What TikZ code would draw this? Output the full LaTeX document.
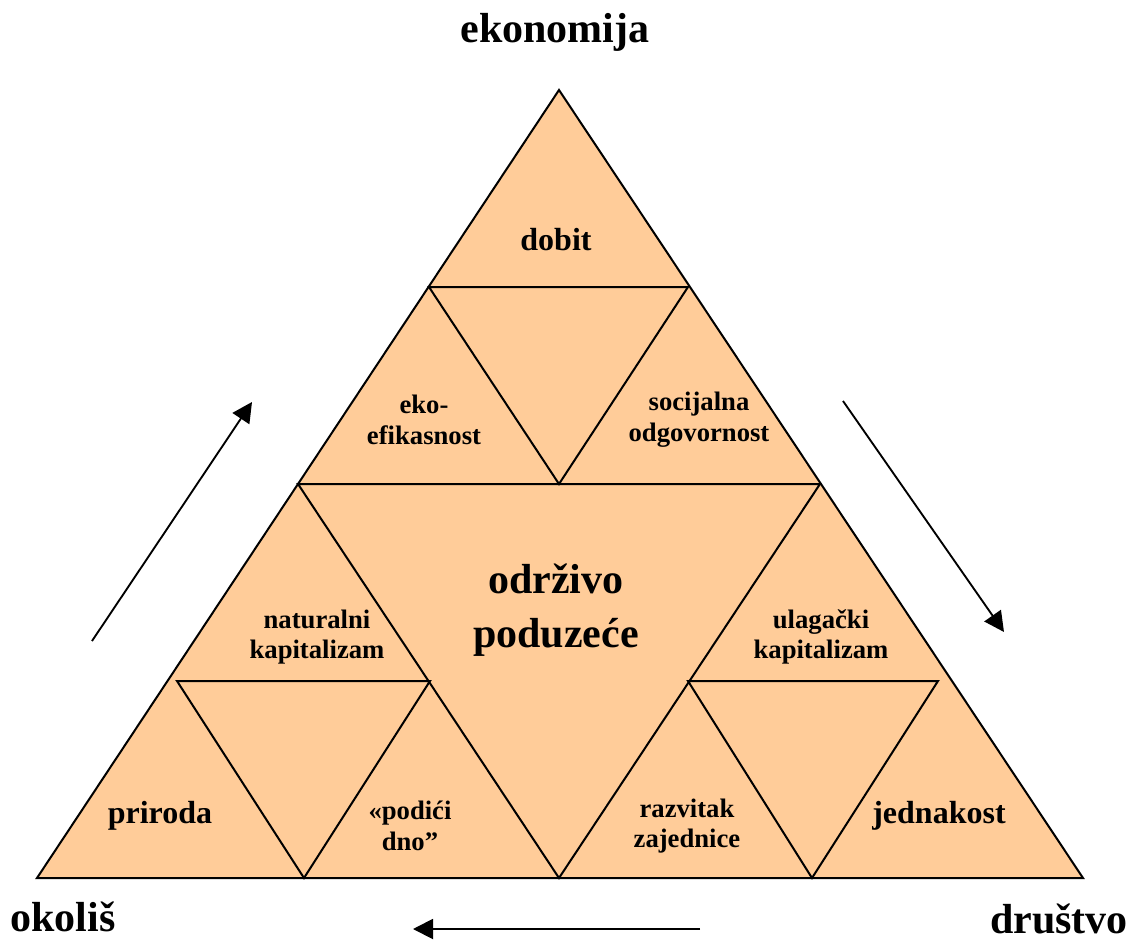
\documentclass[tikz,border=0pt]{standalone}
\usepackage{fontspec}
\setmainfont{Liberation Serif}
\usetikzlibrary{arrows.meta}
\definecolor{peach}{HTML}{FFCC99}
\begin{document}
\begin{tikzpicture}[x=0.75pt,y=-0.75pt,
  part/.style={draw=black,line width=1.5pt,line join=miter,fill=peach},
  cut/.style={draw=black,line width=1.5pt},
  flow/.style={draw=black,line width=1.4pt,-{Triangle[length=15pt,width=15pt]}},
  big/.style={font=\bfseries\fontsize{31.5}{40}\selectfont,align=center},
  mid/.style={font=\bfseries\fontsize{24}{30}\selectfont,align=center},
  small/.style={font=\bfseries\fontsize{20}{23}\selectfont,align=center}]
\useasboundingbox (0,0) rectangle (1133,943);
% corners of the outer triangle
\coordinate (T) at (559,90);
\coordinate (L) at (37,878);
\coordinate (R) at (1083,878);
% midpoints of its sides
\coordinate (ML) at (298,484);
\coordinate (MR) at (820,484);
\coordinate (MB) at (559,878);
% quarter points
\coordinate (QL1) at (429,287);
\coordinate (QR1) at (688,287);
\coordinate (QL2) at (177,681);
\coordinate (QL3) at (430,681);
\coordinate (QR2) at (688,681);
\coordinate (QR3) at (938,681);
\coordinate (QB1) at (304,878);
\coordinate (QB2) at (812,878);
% outer triangle
\draw[part] (T) -- (L) -- (R) -- cycle;
% central inverted triangle
\draw[cut] (ML) -- (MR) -- (MB) -- cycle;
% top corner subdivision
\draw[cut] (QL1) -- (QR1) -- (MB |- ML) -- cycle;
% left corner subdivision
\draw[cut] (QL2) -- (QL3) -- (QB1) -- cycle;
% right corner subdivision
\draw[cut] (QR2) -- (QR3) -- (QB2) -- cycle;
% labels
\node[big] (eko) at (555,32) {ekonomija};
\node[big] (okol) at (63,917) {okoliš};
\node[big] (drus) at (1059,919) {društvo};
\node[big] (core) at (556,610) {održivo\\poduzeće};
\node[mid] (dob) at (556,240) {dobit};
\node[mid] (pri) at (160,816) {priroda};
\node[mid] (jed) at (939,816) {jednakost};
\node[small] (efi) at (424,420) {eko-\\efikasnost};
\node[small] (soc) at (699,420) {socijalna\\odgovornost};
\node[small] (nat) at (317,637) {naturalni\\kapitalizam};
\node[small] (ula) at (821,637) {ulagački\\kapitalizam};
\node[small] (pod) at (410,826) {«podići\\dno”};
\node[small] (raz) at (687,826) {razvitak\\zajednice};
% direction arrows around the triangle
\coordinate (a1s) at (92,641);
\coordinate (a1e) at (252,402);
\coordinate (a2s) at (843,401);
\coordinate (a2e) at (1004,632);
\coordinate (a3s) at (700,929);
\coordinate (a3e) at (413,929);
\draw[flow] (a1s) -- (a1e);
\draw[flow] (a2s) -- (a2e);
\draw[flow] (a3s) -- (a3e);
\end{tikzpicture}
\end{document}
